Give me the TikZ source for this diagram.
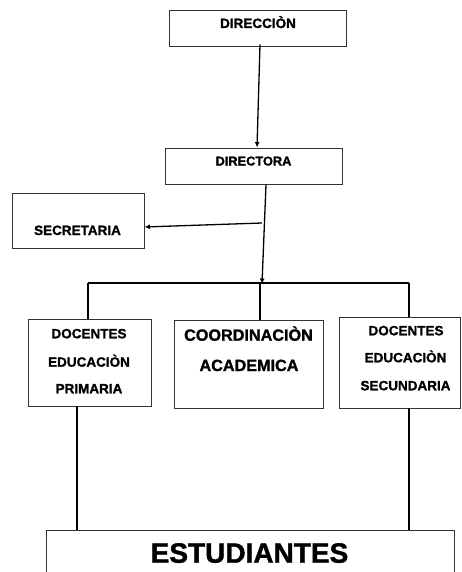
\documentclass[tikz,border=0pt]{standalone}
\usepackage{fontspec}
\setmainfont{Liberation Sans}[BoldFeatures={FakeBold=1.3}]
\usetikzlibrary{arrows.meta}
\begin{document}
\begin{tikzpicture}[x=1pt,y=-1pt,
  box/.style={draw=black!80,line width=0.9pt,inner sep=0pt,rectangle},
  lbl/.style={font=\fontsize{13.5}{16}\selectfont\bfseries,inner sep=0pt,anchor=base},
  lblm/.style={font=\fontsize{16.2}{19}\selectfont\bfseries,inner sep=0pt,anchor=base},
  lblb/.style={font=\fontsize{28}{32}\selectfont\bfseries,inner sep=0pt,anchor=base},
  conn/.style={line width=1.3pt},
  tip/.style={-{Latex[length=5.5pt,width=5pt]}}]
\useasboundingbox (0,0) rectangle (461,572);
% boxes
\node[box,minimum width=177pt,minimum height=36pt] (dir) at (257.5,28) {};
\node[box,minimum width=177pt,minimum height=36pt] (dtra) at (253.5,166) {};
\node[box,minimum width=132pt,minimum height=55pt] (sec) at (78,220.5) {};
\node[box,minimum width=123pt,minimum height=87pt] (prim) at (89.5,362.5) {};
\node[box,minimum width=149pt,minimum height=88pt] (coord) at (248.5,364) {};
\node[box,minimum width=121pt,minimum height=91pt] (secu) at (399.5,362.5) {};
\node[box,minimum width=408pt,minimum height=60pt] (est) at (250,560) {};
% texts
\node[lbl] (tdir) at (258,28) {DIRECCIÒN};
\node[lbl,font=\fontsize{12.8}{16}\selectfont\bfseries] (tdtra) at (253.5,165.5) {DIRECTORA};
\node[lbl] (tsec) at (77.5,235) {SECRETARIA};
\node[lbl] (tp1) at (89,338.3) {DOCENTES};
\node[lbl] (tp2) at (89,366.7) {EDUCACIÒN};
\node[lbl] (tp3) at (89,393.3) {PRIMARIA};
\node[lblm] (tc1) at (248.5,340.7) {COORDINACIÒN};
\node[lblm] (tc2) at (249,371) {ACADEMICA};
\node[lbl] (ts1) at (406,335.3) {DOCENTES};
\node[lbl] (ts2) at (405.5,362.3) {EDUCACIÒN};
\node[lbl] (ts3) at (405.5,390.3) {SECUNDARIA};
\node[lblb] (test) at (249.5,562.7) {ESTUDIANTES};
% coordinates
\coordinate (bar) at (262,283);
\coordinate (bl) at (88,283);
\coordinate (bm) at (260,283);
\coordinate (br) at (409,283);
\coordinate (sj) at (262,223);
% connectors
\draw[conn,tip] ([xshift=2.5pt,yshift=2pt]dir.south) -- ([xshift=3.5pt]dtra.north);
\draw[conn,tip] ([xshift=12.5pt]dtra.south) -- ([yshift=-1pt]bar);
\draw[conn,tip] (sj) -- ([yshift=-6.5pt]sec.east);
\draw[conn,line width=1.7pt] (bl) -- (br);
\draw[conn,line width=1.7pt] (bl) -- (bl |- prim.north);
\draw[conn,line width=1.7pt] (bm) -- (bm |- coord.north);
\draw[conn,line width=1.7pt] (br) -- (br |- secu.north);
\draw[conn,line width=1.7pt] (prim.south -| 77,0) -- (est.north -| 77,0);
\draw[conn,line width=1.7pt] (secu.south -| br) -- (est.north -| br);
\end{tikzpicture}
\end{document}
